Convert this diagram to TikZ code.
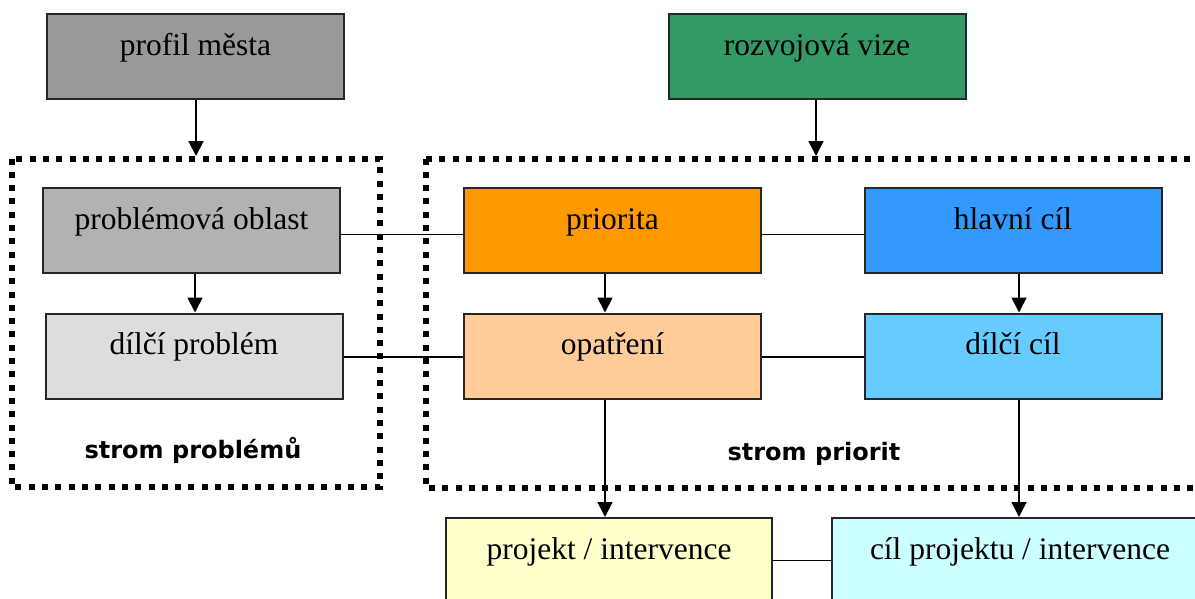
\documentclass[tikz,border=0pt]{standalone}
\usepackage{fontspec}
\setmainfont{Liberation Serif}
\newfontfamily\labfont{DejaVu Sans}
\usetikzlibrary{arrows.meta}
\definecolor{cgrayA}{HTML}{999999}
\definecolor{cgrayB}{HTML}{B2B2B2}
\definecolor{cgrayC}{HTML}{DDDDDD}
\definecolor{cgreen}{HTML}{339966}
\definecolor{corange}{HTML}{FF9900}
\definecolor{cpeach}{HTML}{FFCC99}
\definecolor{cblue}{HTML}{3399FF}
\definecolor{clblue}{HTML}{66CCFF}
\definecolor{cyellow}{HTML}{FFFFCC}
\definecolor{ccyan}{HTML}{CCFFFF}
\begin{document}
\begin{tikzpicture}[x=1pt,y=-1pt,
  box/.style={draw=black!85, line width=2pt, minimum width=297pt, minimum height=85pt,
    inner sep=0pt, text height=20pt, text depth=23pt, font=\fontsize{31.5}{36}\selectfont},
  frame/.style={line width=6pt, dash pattern=on 6pt off 7.3pt},
  arr/.style={line width=1.8pt, -{Triangle[length=15pt,width=15pt]}},
  con/.style={line width=1.6pt},
  lab/.style={font=\labfont\bfseries\fontsize{24}{28}\selectfont, anchor=base, inner sep=0pt}]
\useasboundingbox (0,0) rectangle (1195,598);
\clip (0,0) rectangle (1195,598);
% frames
\draw[frame] (11.5,158.5) rectangle (380,487);
\draw[frame] (426,158.5) rectangle (1230,488);
\coordinate (ltop) at (196,156);
\coordinate (rtop) at (816,156);
% boxes
\node[box, fill=cgrayA] (pm) at (195.5,56.5) {profil města};
\node[box, fill=cgreen] (rv) at (817,56.5) {rozvojová vize};
\node[box, fill=cgrayB] (po) at (191.5,230.5) {problémová oblast};
\node[box, fill=cgrayC] (dp) at (194,356) {dílčí problém};
\node[box, fill=corange] (pr) at (612.5,230.5) {priorita};
\node[box, fill=cblue] (hc) at (1013,230.5) {hlavní cíl};
\node[box, fill=cpeach] (op) at (612.5,356) {opatření};
\node[box, fill=clblue] (dc) at (1013,356) {dílčí cíl};
\node[box, fill=cyellow, minimum width=326pt] (pj) at (609,560.5) {projekt / intervence};
\node[box, fill=ccyan, minimum width=376pt] (cp) at (1020,560.5) {cíl projektu / intervence};
% labels
\node[lab] (sp) at (193,458) {strom problémů};
\node[lab] (spr) at (814,460) {strom priorit};
% arrows
\draw[arr] (pm.south -| ltop) -- (ltop);
\draw[arr] (rv.south -| rtop) -- (rtop);
\draw[arr] (po.south -| 195,0) -- (dp.north -| 195,0);
\draw[arr] (pr.south -| 605,0) -- (op.north -| 605,0);
\draw[arr] (hc.south -| 1019,0) -- (dc.north -| 1019,0);
\draw[arr] (op.south -| 605,0) -- (pj.north -| 605,0);
\draw[arr] (dc.south -| 1019,0) -- (cp.north -| 1019,0);
% connectors
\draw[con] ([yshift=-4pt]po.east) -- ([yshift=-4pt]pr.west);
\draw[con] ([yshift=-4pt]pr.east) -- ([yshift=-4pt]hc.west);
\draw[con] ([yshift=-1pt]dp.east) -- ([yshift=-1pt]op.west);
\draw[con] ([yshift=-1pt]op.east) -- ([yshift=-1pt]dc.west);
\draw[con] (pj.east) -- (cp.west);
\end{tikzpicture}
\end{document}
